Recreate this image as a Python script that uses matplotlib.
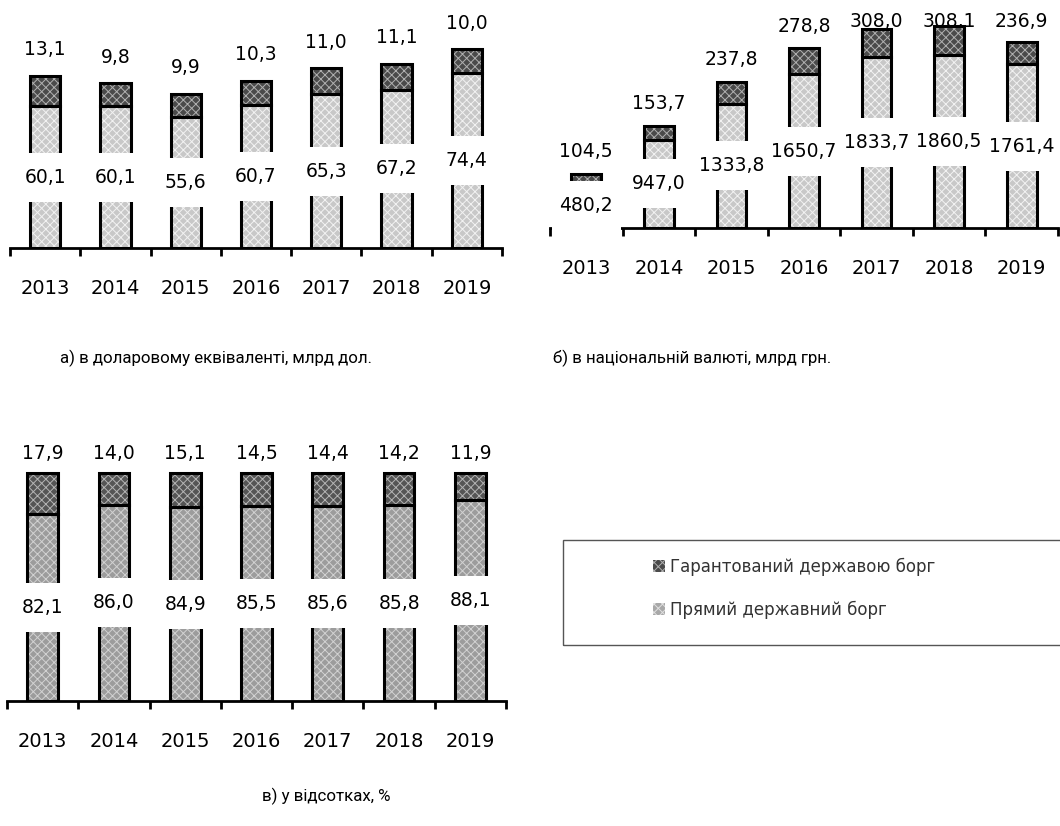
import matplotlib
matplotlib.use("Agg")
import matplotlib.pyplot as plt
from matplotlib.path import Path
from matplotlib.patches import Patch, Rectangle

years = ["2013", "2014", "2015", "2016", "2017", "2018", "2019"]

usd_direct = [60.1, 60.1, 55.6, 60.7, 65.3, 67.2, 74.4]
usd_guar = [13.1, 9.8, 9.9, 10.3, 11.0, 11.1, 10.0]

uah_direct = [480.2, 947.0, 1333.8, 1650.7, 1833.7, 1860.5, 1761.4]
uah_guar = [104.5, 153.7, 237.8, 278.8, 308.0, 308.1, 236.9]

pct_direct = [82.1, 86.0, 84.9, 85.5, 85.6, 85.8, 88.1]
pct_guar = [17.9, 14.0, 15.1, 14.5, 14.4, 14.2, 11.9]

legend_labels = ["Гарантований державою борг", "Прямий державний борг"]

plt.rcParams['hatch.linewidth'] = 0.7

W, H = 1060, 826
fig = plt.figure(figsize=(W / 100, H / 100), dpi=100)


def tall_box(x0, y0, width, height, mutation_size):
    # white label box like Excel: small side padding, large vertical padding
    px = 0.4 * mutation_size
    py = 0.8 * mutation_size
    verts = [(x0 - px, y0 - py), (x0 + width + px, y0 - py),
             (x0 + width + px, y0 + height + py), (x0 - px, y0 + height + py),
             (x0 - px, y0 - py)]
    return Path(verts, closed=True)


def fmt(v):
    return f"{v:.1f}".replace(".", ",")


def panel(left, right, baseline, top, ymax, direct, guar, colors, bar_w,
          top_off_px, top_cap=None):
    ax = fig.add_axes([left / W, 1 - baseline / H, (right - left) / W,
                       (baseline - top) / H])
    ax.set_xlim(-0.5, 6.5)
    ax.set_ylim(0, ymax)
    px_per_unit = (baseline - top) / ymax
    x = range(len(years))
    dcol, dhatch, gcol, ghatch = colors

    ax.bar(x, direct, bar_w, color=dcol, edgecolor=dhatch, hatch='xxxx',
           linewidth=0, zorder=2)
    ax.bar(x, guar, bar_w, bottom=direct, color=gcol, edgecolor=ghatch,
           hatch='xxxx', linewidth=0, zorder=2)
    ax.bar(x, direct, bar_w, fill=False, edgecolor='black', linewidth=2.2, zorder=3)
    ax.bar(x, guar, bar_w, bottom=direct, fill=False, edgecolor='black',
           linewidth=2.2, zorder=3)

    for i in x:
        ax.text(i, direct[i] / 2, fmt(direct[i]), ha='center', va='center',
                fontsize=13.5, zorder=5 + i, clip_on=False,
                bbox=dict(boxstyle=tall_box, facecolor='white', edgecolor='none'))
        ty = direct[i] + guar[i] + top_off_px / px_per_unit
        if top_cap is not None:
            ty = min(ty, top_cap)
        ax.text(i, ty, fmt(guar[i]), ha='center', va='center', fontsize=13.5,
                zorder=1, clip_on=False)

    for s in ['left', 'right', 'top']:
        ax.spines[s].set_visible(False)
    ax.spines['bottom'].set_linewidth(2)
    ax.set_yticks([])
    ax.set_xticks(list(x))
    ax.set_xticklabels(years, fontsize=14)
    ax.tick_params(axis='x', which='major', length=0, pad=22)
    ax.set_xticks([k - 0.5 for k in range(len(years) + 1)], minor=True)
    ax.tick_params(axis='x', which='minor', length=6, width=2, direction='out')
    ax.patch.set_visible(False)
    return ax


light = ('#c8c8c8', '#f2f2f2', '#4a4a4a', '#b0b0b0')
dark = ('#9c9c9c', '#d2d2d2', '#555555', '#b4b4b4')

panel(10, 502, 248, 36, 90, usd_direct, usd_guar, light, 0.43, 26)
panel(550, 1058, 228, 14, 2300, uah_direct, uah_guar, light, 0.41, 22,
      top_cap=2215)
panel(7, 506, 701, 450, 110, pct_direct, pct_guar, dark, 0.43, 19)

fig.text(60 / W, 1 - 358 / H, "а) в доларовому еквіваленті, млрд дол.",
         fontsize=12.2, family='Roboto', va='center', ha='left')
fig.text(553 / W, 1 - 358 / H, "б) в національній валюті, млрд грн.",
         fontsize=12.2, family='Roboto', va='center', ha='left')
fig.text(262 / W, 1 - 796 / H, "в) у відсотках, %",
         fontsize=12.2, family='Roboto', va='center', ha='left')

# legend frame extends past the right edge, like the cropped original
fig.patches.append(Rectangle((563 / W, 1 - 645 / H), 600 / W, 105 / H,
                             transform=fig.transFigure, fill=False,
                             edgecolor='#555555', linewidth=1))
handles = [Patch(facecolor=light[2], edgecolor=light[3], hatch='xxxx', linewidth=0),
           Patch(facecolor='#a8a8a8', edgecolor='#e0e0e0', hatch='xxxx', linewidth=0)]
fig.legend(handles, legend_labels, loc='center left',
           bbox_to_anchor=(638 / W, 1 - 588 / H), frameon=False,
           handlelength=0.7, handleheight=0.7,
           handletextpad=0.3, labelspacing=1.5, labelcolor='#333333',
           prop={'family': 'DejaVu Sans', 'size': 12})

fig.savefig("out.png", dpi=100)
